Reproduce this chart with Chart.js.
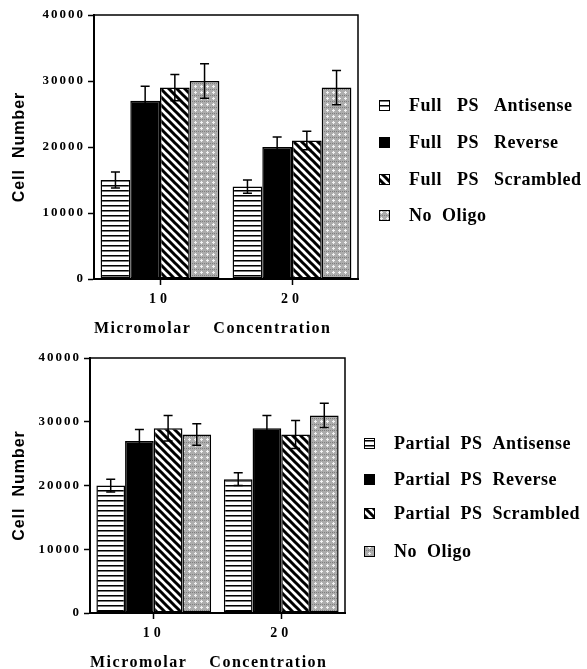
<!DOCTYPE html>
<html>
<head>
<meta charset="utf-8">
<script src="https://cdn.jsdelivr.net/npm/chart.js@4/dist/chart.umd.min.js"></script>
<style>
  html, body { margin: 0; padding: 0; background: #fff; }
  canvas { display: block; }
</style>
</head>
<body>
<canvas id="fullPS" width="587" height="335"></canvas>
<canvas id="partialPS" width="587" height="334"></canvas>
<script>
// Shared axis content
const categories = ['10', '20'];
const yTicks = [0, 10000, 20000, 30000, 40000];

// Full PS oligos
const fullLabels = ['Full   PS   Antisense', 'Full   PS   Reverse', 'Full   PS   Scrambled', 'No  Oligo'];
const fullAntisense = [15000, 14000];
const fullAntisenseErr = [1200, 1000];
const fullReverse = [27000, 20000];
const fullReverseErr = [2200, 1500];
const fullScrambled = [29000, 21000];
const fullScrambledErr = [2000, 1400];
const fullNoOligo = [30000, 29000];
const fullNoOligoErr = [2600, 2600];

// Partial PS oligos
const partialLabels = ['Partial  PS  Antisense', 'Partial  PS  Reverse', 'Partial  PS  Scrambled', 'No  Oligo'];
const partialAntisense = [20000, 21000];
const partialAntisenseErr = [1000, 1000];
const partialReverse = [27000, 29000];
const partialReverseErr = [1800, 2000];
const partialScrambled = [29000, 28000];
const partialScrambledErr = [2000, 2200];
const partialNoOligo = [28000, 31000];
const partialNoOligoErr = [1700, 1900];

const SERIF = '"Liberation Serif", "Times New Roman", serif';
const SANS = '"Liberation Sans", Arial, sans-serif';

// Small repeating tiles for the hatched bar fills
function tile(w, h, paint) {
  const c = document.createElement('canvas');
  c.width = w; c.height = h;
  paint(c.getContext('2d'), w, h);
  return c;
}

function makeFills(ctx) {
  const lines = ctx.createPattern(tile(4, 5, (g, w, h) => {
    g.fillStyle = '#fff'; g.fillRect(0, 0, w, h);
    g.fillStyle = '#000'; g.fillRect(0, 0, w, 1);
    g.fillStyle = '#777'; g.fillRect(0, 1, w, 1);
  }), 'repeat');
  const diagonal = ctx.createPattern(tile(8, 8, (g, w, h) => {
    g.fillStyle = '#fff'; g.fillRect(0, 0, w, h);
    g.strokeStyle = '#000'; g.lineWidth = 3;
    g.beginPath();
    for (const k of [-1, 0, 1]) {
      g.moveTo(k * w - 2, -2);
      g.lineTo(k * w + w + 2, h + 2);
    }
    g.stroke();
  }), 'repeat');
  const stipple = ctx.createPattern(tile(6, 6, (g, w, h) => {
    g.fillStyle = '#adadad'; g.fillRect(0, 0, w, h);
    g.fillStyle = '#f2f2f2';
    g.fillRect(3, 1, 1, 3);
    g.fillRect(2, 2, 3, 1);
    g.fillStyle = '#808080';
    g.fillRect(0, 5, 1, 1); g.fillRect(2, 5, 1, 1); g.fillRect(4, 5, 1, 1);
  }), 'repeat');
  return [lines, '#000', diagonal, stipple];
}

// Per-scale letter spacing for tick labels and axis titles
const axisLetterSpacing = {
  id: 'axisLetterSpacing',
  afterLayout(chart, args, opts) {
    for (const [id, scale] of Object.entries(chart.scales)) {
      const cfg = opts[id];
      if (!cfg || scale._spacingWrapped) continue;
      scale._spacingWrapped = true;
      const drawLabels = scale.drawLabels;
      const drawTitle = scale.drawTitle;
      scale.drawLabels = function (area) {
        const c = this.ctx, prev = c.letterSpacing;
        c.letterSpacing = cfg.ticks;
        drawLabels.call(this, area);
        c.letterSpacing = prev;
      };
      scale.drawTitle = function () {
        const c = this.ctx, prev = c.letterSpacing;
        c.letterSpacing = cfg.title;
        drawTitle.call(this);
        c.letterSpacing = prev;
      };
    }
  }
};

// Thin top and right border of the plot box
const plotFrame = {
  id: 'plotFrame',
  beforeDatasetsDraw(chart) {
    const { ctx, chartArea: a } = chart;
    ctx.save();
    ctx.strokeStyle = '#000';
    ctx.lineWidth = 1.5;
    ctx.beginPath();
    ctx.moveTo(a.left, a.top);
    ctx.lineTo(a.right, a.top);
    ctx.lineTo(a.right, a.bottom);
    ctx.stroke();
    ctx.restore();
  }
};

// Symmetric error bars from each dataset's "errors" array
const errorBars = {
  id: 'errorBars',
  afterDatasetsDraw(chart, args, opts) {
    const { ctx } = chart;
    const y = chart.scales.y;
    const half = opts.capWidth / 2;
    ctx.save();
    ctx.strokeStyle = '#000';
    ctx.lineWidth = opts.lineWidth;
    chart.data.datasets.forEach((ds, i) => {
      chart.getDatasetMeta(i).data.forEach((bar, j) => {
        const v = ds.data[j], e = ds.errors[j];
        const yt = y.getPixelForValue(v + e);
        const yb = y.getPixelForValue(v - e);
        ctx.beginPath();
        ctx.moveTo(bar.x, yt); ctx.lineTo(bar.x, yb);
        ctx.moveTo(bar.x - half, yt); ctx.lineTo(bar.x + half, yt);
        ctx.moveTo(bar.x - half, yb); ctx.lineTo(bar.x + half, yb);
        ctx.stroke();
      });
    });
    ctx.restore();
  }
};

// Key at the right of the plot
const sideLegend = {
  id: 'sideLegend',
  afterDraw(chart, args, o) {
    const ctx = chart.ctx;
    ctx.save();
    ctx.font = 'bold 18px ' + SERIF;
    ctx.letterSpacing = '0.5px';
    ctx.textBaseline = 'middle';
    ctx.textAlign = 'left';
    chart.data.datasets.forEach((ds, i) => {
      const y = o.rows[i];
      const top = Math.round(y - o.box / 2);
      ctx.fillStyle = ds.backgroundColor;
      ctx.fillRect(o.boxX, top, o.box, o.box);
      ctx.strokeStyle = '#000';
      ctx.lineWidth = 1;
      ctx.strokeRect(o.boxX + 0.5, top + 0.5, o.box - 1, o.box - 1);
      ctx.fillStyle = '#000';
      ctx.fillText(ds.label, o.textX, y + 1);
    });
    ctx.restore();
  }
};

function buildChart(id, labels, series, errors, layout) {
  const canvas = document.getElementById(id);
  const ctx = canvas.getContext('2d');
  const fills = makeFills(ctx);
  const datasets = series.map((data, i) => ({
    label: labels[i],
    data,
    errors: errors[i],
    backgroundColor: fills[i],
    borderColor: '#000',
    borderWidth: 1.5,
    borderSkipped: false,
    categoryPercentage: 0.9,
    barPercentage: 1.0
  }));

  return new Chart(ctx, {
    type: 'bar',
    data: { labels: categories, datasets },
    plugins: [axisLetterSpacing, plotFrame, errorBars, sideLegend],
    options: {
      responsive: false,
      animation: false,
      devicePixelRatio: 1,
      layout: { padding: { top: layout.top, right: layout.right, left: 0, bottom: 0 } },
      plugins: {
        legend: { display: false },
        tooltip: { enabled: false },
        axisLetterSpacing: {
          x: { ticks: '4px', title: '1.5px' },
          y: { ticks: '2px', title: '1px' }
        },
        errorBars: { capWidth: 9, lineWidth: 1.5 },
        sideLegend: { boxX: layout.boxX, textX: layout.textX, box: 11, rows: layout.rows }
      },
      scales: {
        x: {
          grid: { offset: false, drawOnChartArea: false, drawTicks: true, tickLength: 6, tickColor: '#000', tickWidth: 1.5 },
          border: { display: true, color: '#000', width: 2 },
          ticks: { color: '#000', font: { family: SERIF, size: 14, weight: 'bold' }, padding: 6, maxRotation: 0 },
          title: {
            display: true, text: 'Micromolar    Concentration', align: 'start', color: '#000',
            font: { family: SERIF, size: 16, weight: 'bold', lineHeight: 0.8 }, padding: 0
          },
          afterFit(s) { s.height = layout.xHeight; }
        },
        y: {
          min: 0, max: 40000,
          afterBuildTicks(s) { s.ticks = yTicks.map(v => ({ value: v })); },
          grid: { drawOnChartArea: false, drawTicks: true, tickLength: 6, tickColor: '#000', tickWidth: 1.5 },
          border: { display: true, color: '#000', width: 2 },
          ticks: { color: '#000', font: { family: SERIF, size: 13, weight: 'bold' }, padding: 3, callback: v => String(v) },
          title: {
            display: true, text: 'Cell  Number', color: '#000',
            font: { family: SANS, size: 16, weight: 'bold' }, padding: { top: 10, bottom: 10 }
          },
          afterFit(s) { s.width = layout.yWidth; }
        }
      }
    }
  });
}

buildChart('fullPS', fullLabels,
  [fullAntisense, fullReverse, fullScrambled, fullNoOligo],
  [fullAntisenseErr, fullReverseErr, fullScrambledErr, fullNoOligoErr],
  { top: 15, right: 229, yWidth: 94, xHeight: 56, boxX: 379, textX: 409, rows: [105, 142, 179, 215] });

buildChart('partialPS', partialLabels,
  [partialAntisense, partialReverse, partialScrambled, partialNoOligo],
  [partialAntisenseErr, partialReverseErr, partialScrambledErr, partialNoOligoErr],
  { top: 23, right: 242, yWidth: 90, xHeight: 56, boxX: 364, textX: 394, rows: [108, 144, 178, 216] });
</script>
</body>
</html>
